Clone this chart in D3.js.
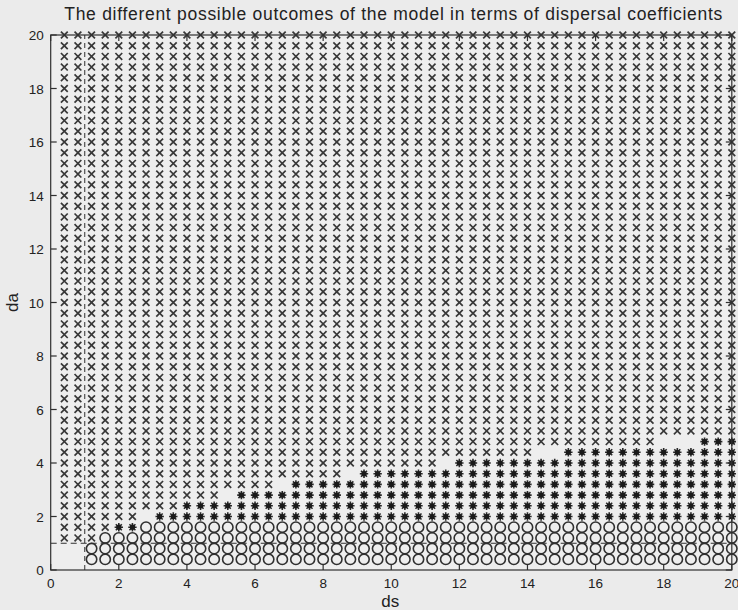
<!DOCTYPE html>
<html>
<head>
<meta charset="utf-8">
<script src="https://cdn.jsdelivr.net/npm/d3@7/dist/d3.min.js"></script>
<style>
  html, body { margin: 0; padding: 0; background: #ebebeb; }
  svg { display: block; }
  text { font-family: "Liberation Sans", Arial, Helvetica, sans-serif; fill: #222; }
</style>
</head>
<body>
<svg id="chart" width="738" height="610"></svg>
<script>
// Parameter grid: dispersal coefficients ds (columns) and da (rows), step 0.4
const dsValues = d3.range(1, 51).map(k => +(k * 0.4).toFixed(1));
const daValues = d3.range(1, 51).map(k => +(k * 0.4).toFixed(1));

// Outcome for each da row, run-length coded along ds:
// "o" = circle, "*" = asterisk, "x" = cross, "." = no marker
const lowRows = [
  "2. 48o",          // da = 0.4
  "2. 48o",          // da = 0.8
  "3x 47o",          // da = 1.2
  "4x 2* 44o",       // da = 1.6
  "6x 1. 43*",       // da = 2.0
  "9x 41*",          // da = 2.4
  "12x 1. 37*",      // da = 2.8
  "16x 1. 33*",      // da = 3.2
  "21x 1. 28*",      // da = 3.6
  "28x 1. 21*",      // da = 4.0
  "35x 2. 13*",      // da = 4.4
  "44x 3. 3*"        // da = 4.8
];
const upperRow = "50x";   // every row from da = 5.2 to 20

// Dashed reference lines at ds = 1 and da = 1
const refDs = [1];
const refDa = [1];

const xTicks = d3.range(0, 21, 2);
const yTicks = d3.range(0, 21, 2);

const titleText = "The different possible outcomes of the model in terms of dispersal coefficients";
const xLabel = "ds";
const yLabel = "da";

function decode(runs) {
  const out = [];
  runs.split(" ").forEach(r => {
    const n = parseInt(r, 10);
    const c = r.replace(/^\d+/, "");
    for (let i = 0; i < n; i++) out.push(c);
  });
  return out;
}

const cells = [];
daValues.forEach((da, i) => {
  const codes = decode(i < lowRows.length ? lowRows[i] : upperRow);
  dsValues.forEach((ds, j) => {
    if (codes[j] !== ".") cells.push({ ds, da, kind: codes[j] });
  });
});

const svg = d3.select("#chart");
const plotL = 50.7, plotR = 731.8, plotT = 35, plotB = 570;

const x = d3.scaleLinear().domain([0, 20]).range([plotL, plotR]);
const y = d3.scaleLinear().domain([0, 20]).range([plotB, plotT]);

const ink = "#303030";

// Plot area background
svg.append("rect")
  .attr("x", plotL).attr("y", plotT)
  .attr("width", plotR - plotL).attr("height", plotB - plotT)
  .attr("fill", "#eeeeee").attr("stroke", "none");

// Reference lines
svg.selectAll(".ref-v").data(refDs).enter().append("line")
  .attr("x1", d => x(d)).attr("x2", d => x(d))
  .attr("y1", y(0)).attr("y2", y(20))
  .attr("stroke", ink).attr("stroke-width", 1)
  .attr("stroke-dasharray", "5,4");
svg.selectAll(".ref-h").data(refDa).enter().append("line")
  .attr("x1", x(0)).attr("x2", x(20))
  .attr("y1", d => y(d)).attr("y2", d => y(d))
  .attr("stroke", ink).attr("stroke-width", 1)
  .attr("stroke-dasharray", "6,4");

// Markers
const crossPath = "M-3.4,-3.4L3.4,3.4M-3.4,3.4L3.4,-3.4";
const starPath = "M-4.2,0L4.2,0M0,-4.2L0,4.2M-3,-3L3,3M-3,3L3,-3";

const g = svg.append("g");
g.selectAll(".cross").data(cells.filter(d => d.kind === "x")).enter()
  .append("path")
  .attr("transform", d => `translate(${x(d.ds)},${y(d.da)})`)
  .attr("d", crossPath)
  .attr("fill", "none").attr("stroke", "#383838").attr("stroke-width", 1.7);

g.selectAll(".circ").data(cells.filter(d => d.kind === "o")).enter()
  .append("circle")
  .attr("cx", d => x(d.ds)).attr("cy", d => y(d.da)).attr("r", 5.2)
  .attr("fill", "none").attr("stroke", ink).attr("stroke-width", 1.6);

const stars = g.selectAll(".star").data(cells.filter(d => d.kind === "*")).enter()
  .append("g")
  .attr("transform", d => `translate(${x(d.ds)},${y(d.da)})`);
stars.append("path").attr("d", starPath)
  .attr("fill", "none").attr("stroke", "#2a2a2a").attr("stroke-width", 1.6);
stars.append("circle").attr("r", 2.6).attr("fill", "#1a1a1a");

// Axes box with inward ticks on all four sides
const tickLen = 6;
const axes = svg.append("g").attr("stroke", ink).attr("stroke-width", 1.2);
axes.append("rect")
  .attr("x", plotL).attr("y", plotT)
  .attr("width", plotR - plotL).attr("height", plotB - plotT)
  .attr("fill", "none");
xTicks.forEach(t => {
  axes.append("line").attr("x1", x(t)).attr("x2", x(t)).attr("y1", plotB).attr("y2", plotB - tickLen);
  axes.append("line").attr("x1", x(t)).attr("x2", x(t)).attr("y1", plotT).attr("y2", plotT + tickLen);
});
yTicks.forEach(t => {
  axes.append("line").attr("x1", plotL).attr("x2", plotL + tickLen).attr("y1", y(t)).attr("y2", y(t));
  axes.append("line").attr("x1", plotR).attr("x2", plotR - tickLen).attr("y1", y(t)).attr("y2", y(t));
});

// Tick labels
svg.selectAll(".xt").data(xTicks).enter().append("text")
  .attr("x", d => x(d)).attr("y", plotB + 18)
  .attr("text-anchor", "middle").attr("font-size", 13.5)
  .text(d => d);
svg.selectAll(".yt").data(yTicks).enter().append("text")
  .attr("x", plotL - 7).attr("y", d => y(d) + 5)
  .attr("text-anchor", "end").attr("font-size", 13.5)
  .text(d => d);

// Title and axis labels
svg.append("text").attr("x", (plotL + plotR) / 2 + 2).attr("y", 20)
  .attr("text-anchor", "middle").attr("font-size", 17.5)
  .attr("textLength", 658).attr("lengthAdjust", "spacing")
  .text(titleText);
svg.append("text").attr("x", (plotL + plotR) / 2 - 1).attr("y", 607)
  .attr("text-anchor", "middle").attr("font-size", 17)
  .text(xLabel);
svg.append("text")
  .attr("transform", `translate(18,${(plotT + plotB) / 2}) rotate(-90)`)
  .attr("text-anchor", "middle").attr("font-size", 17)
  .text(yLabel);
</script>
</body>
</html>
